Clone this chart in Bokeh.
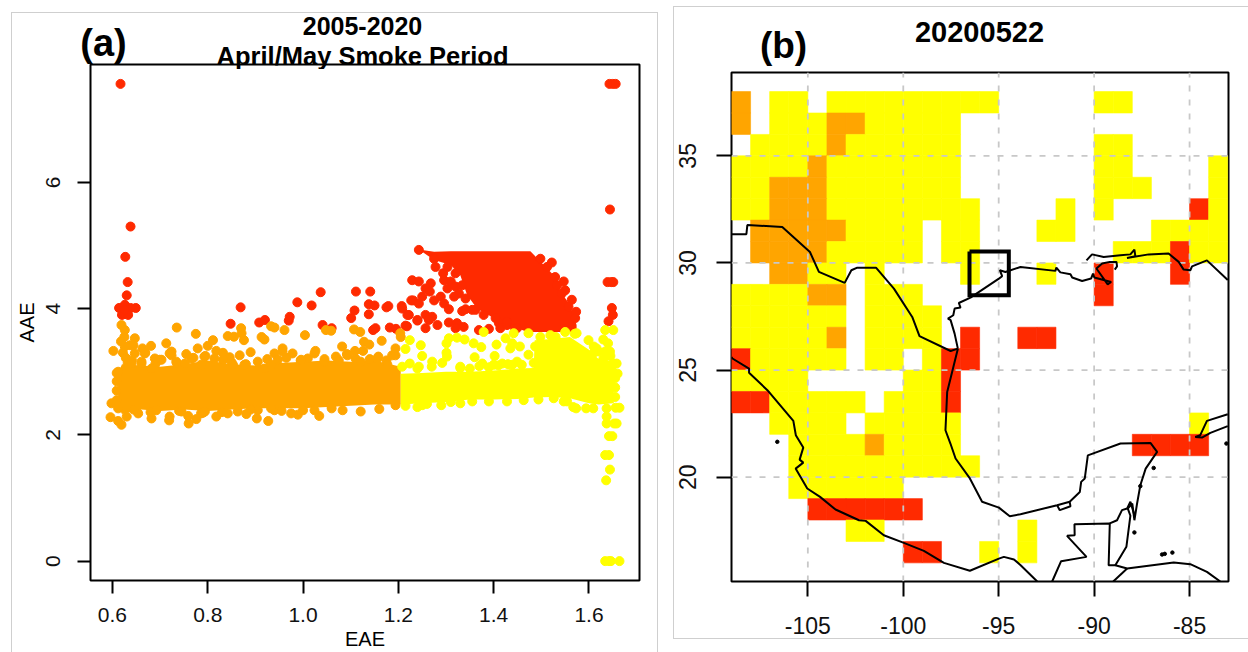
from bokeh.plotting import figure
from bokeh.layouts import row, column
from bokeh.models import FixedTicker, Range1d
from bokeh.core.properties import value
from bokeh.embed import file_html
from bokeh.resources import INLINE

FONT = "Liberation Sans"
ORANGE, YELLOW, RED = "#FFA500", "#FFFF00", "#FF2A00"

# ---------- panel (a): values ----------
eae_ticks = [0.6, 0.8, 1.0, 1.2, 1.4, 1.6]
eae_tick_labels = ["0.6", "0.8", "1.0", "1.2", "1.4", "1.6"]
aae_ticks = [0, 2, 4, 6]
aae_tick_labels = ["0", "2", "4", "6"]

# solid parts of the point cloud, as read envelopes
red_mass_eae = [1.250, 1.275, 1.310, 1.330, 1.344, 1.365, 1.400, 1.435, 1.470, 1.477, 1.505, 1.526, 1.540, 1.560, 1.574]
red_mass_high = [4.93, 4.90, 4.91, 4.91, 4.91, 4.91, 4.91, 4.91, 4.91, 4.91, 4.69, 4.53, 4.27, 4.06, 3.74]
red_mass_low = [4.90, 4.77, 4.69, 4.53, 4.22, 4.00, 3.85, 3.74, 3.63, 3.63, 3.63, 3.63, 3.63, 3.63, 3.63]

orange_mass_eae = [0.612, 0.62, 0.66, 0.70, 0.75, 0.80, 0.85, 0.90, 0.95, 1.00, 1.05, 1.10, 1.15, 1.205]
orange_mass_high = [2.98, 3.12, 3.10, 3.08, 3.12, 3.18, 3.12, 3.10, 3.14, 3.16, 3.18, 3.16, 3.18, 3.08]
orange_mass_low = [2.45, 2.33, 2.40, 2.38, 2.40, 2.38, 2.40, 2.42, 2.42, 2.42, 2.44, 2.46, 2.48, 2.48]

yellow_mass_eae = [1.205, 1.25, 1.30, 1.35, 1.40, 1.45, 1.484, 1.486, 1.52, 1.56, 1.60, 1.62, 1.652]
yellow_mass_high = [2.97, 2.98, 3.00, 3.00, 3.02, 3.05, 3.06, 3.50, 3.52, 3.55, 3.35, 3.20, 3.15]
yellow_mass_low = [2.48, 2.50, 2.52, 2.56, 2.56, 2.57, 2.59, 2.59, 2.60, 2.58, 2.50, 2.48, 2.50]

# individually visible points
red_eae = [0.617, 1.643, 1.650, 1.656, 1.644, 0.638, 0.627, 0.632, 0.630, 1.639, 1.647, 1.651, 1.648, 1.650, 1.641,
           0.614, 0.626, 0.649, 0.638, 0.620, 0.633, 0.625, 0.869, 0.848, 0.908, 0.920, 0.970, 0.972, 0.988, 1.018,
           1.037, 1.041, 1.060, 1.101, 1.108, 1.111, 1.141, 1.138, 1.150, 1.138, 1.175, 1.179, 1.147, 1.152, 1.182,
           1.195, 1.218, 1.207, 1.231, 1.222, 1.240, 1.243, 1.278, 1.294, 1.296, 1.229, 1.243, 1.268, 1.257, 1.266,
           1.303, 1.310, 1.320, 1.327, 1.317, 1.250, 1.289, 1.227, 1.275, 1.243, 1.296, 1.306, 1.334, 1.341, 1.257,
           1.271, 1.219, 1.240, 1.264, 1.282, 1.306, 1.257, 1.215, 1.323, 1.337, 1.320, 1.369, 1.390, 1.411, 1.414,
           1.362, 1.428, 1.522, 1.547, 1.550, 1.564, 1.573, 1.208, 1.533, 1.445,
           1.275, 1.303, 1.320, 1.334, 1.341, 1.355, 1.379, 1.404, 1.428, 1.449, 1.498, 1.512, 1.529, 1.543, 1.557, 1.571]
red_aae = [7.56, 7.56, 7.56, 7.56, 5.57, 5.30, 4.82, 4.42, 4.21, 4.42, 4.42, 4.42, 4.01, 3.90, 3.80,
           4.01, 4.06, 4.01, 4.01, 3.90, 3.90, 3.98, 4.02, 3.76, 3.78, 3.82, 3.81, 3.87, 4.10, 4.05,
           4.26, 3.74, 3.69, 3.85, 3.97, 4.27, 4.27, 4.07, 4.05, 3.91, 4.02, 4.04, 3.66, 3.69, 3.70,
           3.68, 3.72, 4.04, 4.13, 3.90, 3.81, 4.93, 4.66, 4.56, 4.45, 4.45, 4.43, 4.40, 4.32, 4.27,
           4.32, 4.43, 4.35, 4.24, 4.19, 4.19, 4.19, 4.13, 4.13, 4.08, 4.08, 3.99, 3.96, 3.99, 3.90,
           3.87, 3.90, 3.82, 3.82, 3.74, 3.78, 3.69, 3.73, 3.77, 3.71, 3.69, 3.66, 3.68, 3.77, 3.69,
           3.98, 3.74, 4.73, 4.43, 4.29, 4.14, 3.95, 4.00, 4.37, 3.69,
           4.79, 4.66, 4.56, 4.37, 4.16, 3.98, 3.90, 3.85, 3.79, 3.69, 4.79, 4.66, 4.50, 4.24, 4.03, 3.85]

orange_eae = [0.735, 0.775, 0.842, 0.855, 0.870, 0.871, 0.876, 0.913, 0.919, 0.933, 0.940, 0.602, 0.681, 0.663, 0.669,
              0.713, 0.724, 0.811, 0.890, 0.598, 0.596, 0.619, 0.612, 0.719, 0.760, 0.776, 0.927, 0.903, 0.842, 0.818,
              0.682, 0.759, 0.881, 0.647, 0.637, 0.619, 0.626, 0.625, 0.626, 0.622, 0.628, 0.632, 0.618, 0.755, 0.779,
              0.800, 0.818, 0.832, 0.846, 0.867, 0.905, 0.940, 0.947, 0.699, 0.661, 0.609, 0.724, 0.654, 0.720, 0.786,
              0.863, 0.630, 0.905, 0.940, 0.961, 1.004, 1.048, 1.059, 1.107, 1.120, 1.204, 1.205, 1.128, 1.139, 1.165,
              1.082, 1.194, 1.187, 1.109, 1.126, 1.092, 1.026, 1.069, 1.158, 0.978, 0.957, 0.989, 0.975, 1.034, 1.121,
              1.083, 1.160, 1.024, 1.194, 1.059, 0.641, 0.690, 0.735, 0.770, 0.795, 0.850, 0.880, 0.925, 0.965, 0.995,
              1.010, 1.045, 1.075, 1.110, 1.140, 1.175, 0.645, 0.680, 0.740, 0.790, 0.830, 0.890, 0.955, 1.000, 1.060,
              0.668, 0.703, 0.720, 0.734, 0.647, 0.644, 0.640, 0.661, 0.682, 0.689, 0.766, 0.793, 0.752, 0.814, 0.786,
              0.832, 0.853, 0.877, 0.919, 0.933, 0.957, 0.996, 1.024, 1.045, 1.093, 1.121, 1.156, 1.177, 1.194,
              0.745, 0.794, 0.933, 0.692, 0.863, 0.609, 0.609, 0.609, 0.612, 0.612]
orange_aae = [3.70, 3.60, 3.565, 3.555, 3.69, 3.61, 3.50, 3.55, 3.51, 3.72, 3.70, 3.33, 3.41, 3.37, 3.30,
              3.45, 3.32, 3.50, 3.31, 2.50, 2.28, 2.16, 2.22, 2.23, 2.18, 2.25, 2.22, 2.26, 2.34, 2.29,
              2.26, 2.30, 2.33, 3.53, 3.42, 3.74, 3.66, 3.55, 3.40, 3.30, 3.22, 3.14, 3.48, 3.28, 3.37,
              3.41, 3.33, 3.30, 3.23, 3.26, 3.16, 3.29, 3.19, 3.19, 3.16, 2.98, 3.26, 2.34, 2.29, 2.34,
              2.37, 2.29, 2.39, 2.39, 3.66, 3.58, 3.66, 3.65, 3.67, 3.63, 3.61, 3.55, 3.475, 3.43, 3.49,
              3.40, 3.37, 3.26, 3.33, 3.33, 3.28, 3.33, 3.24, 3.24, 3.29, 3.37, 2.32, 2.34, 2.30, 2.37,
              2.39, 2.41, 2.39, 2.47, 2.47, 3.18, 3.12, 3.14, 3.22, 3.25, 3.15, 3.12, 3.20, 3.22, 3.18,
              3.21, 3.20, 3.18, 3.21, 3.20, 3.18, 2.40, 2.36, 2.38, 2.35, 2.36, 2.40, 2.38, 2.39, 2.42,
              3.29, 3.19, 3.29, 3.16, 3.29, 3.42, 3.13, 3.13, 3.05, 3.21, 3.21, 3.24, 3.13, 3.21, 3.11,
              3.19, 3.11, 3.11, 3.05, 3.11, 3.32, 3.19, 3.29, 3.16, 3.26, 3.16, 3.21, 3.11, 3.26,
              2.37, 2.37, 2.42, 2.39, 2.45, 2.55, 2.70, 2.85, 2.42, 3.00]

yellow_eae = [1.224, 1.215, 1.247, 1.250, 1.224, 1.208, 1.271, 1.243, 1.292, 1.306, 1.301, 1.323, 1.301, 1.302, 1.339,
              1.358, 1.374, 1.406, 1.360, 1.402, 1.376, 1.425, 1.439, 1.435, 1.455, 1.473, 1.442, 1.379, 1.473, 1.418,
              1.439, 1.449, 1.459, 1.484, 1.350, 1.390, 1.400, 1.498, 1.519, 1.550, 1.574, 1.599, 1.616, 1.634, 1.651,
              1.634, 1.651, 1.630, 1.644, 1.487, 1.355, 1.390, 1.428, 1.463, 1.494, 1.526, 1.547, 1.567, 1.594, 1.609,
              1.637, 1.656, 1.637, 1.653, 1.637, 1.649, 1.642, 1.634, 1.642, 1.644, 1.636, 1.634, 1.642, 1.646, 1.664,
              1.664, 1.658, 1.573, 1.554, 1.660, 1.658, 1.215, 1.260, 1.310, 1.330, 1.530, 1.570, 1.610, 1.640, 1.645,
              1.610, 1.620, 1.640, 1.645, 1.630, 1.650, 1.655, 1.655, 1.655, 1.250, 1.290, 1.330, 1.240,
              1.240, 1.270, 1.330, 1.370, 1.410, 1.430]
yellow_aae = [3.50, 3.36, 3.42, 3.25, 3.13, 3.08, 3.16, 3.08, 3.14, 3.53, 3.45, 3.54, 3.30, 3.24, 3.51,
              3.45, 3.39, 3.43, 3.23, 3.25, 3.13, 3.53, 3.45, 3.37, 3.40, 3.61, 3.61, 3.63, 3.27, 3.13,
              3.11, 3.16, 3.11, 3.14, 3.05, 3.07, 3.11, 3.55, 3.58, 3.63, 3.61, 3.50, 3.37, 3.32, 3.13,
              3.66, 3.66, 3.51, 3.32, 3.40, 2.53, 2.53, 2.53, 2.55, 2.56, 2.58, 2.53, 2.44, 2.42, 2.42,
              2.42, 2.43, 2.18, 2.18, 2.29, 1.98, 1.98, 1.68, 1.68, 1.45, 1.28, 0.0, 0.0, 0.0, 0.0,
              2.43, 2.18, 2.42, 2.53, 2.97, 3.13, 2.46, 2.49, 2.52, 3.06, 3.55, 3.60, 3.30, 3.10, 2.80,
              3.40, 3.32, 3.45, 3.25, 3.20, 3.00, 2.90, 2.75, 2.60, 2.47, 2.47, 2.50, 2.44,
              3.05, 3.08, 3.08, 3.09, 3.10, 3.12]

# ---------- panel (b): 1 degree cells, north to south, -109 ... -84 ----------
lon_ticks = [-105, -100, -95, -90, -85]
lon_tick_labels = ["-105", "-100", "-95", "-90", "-85"]
lat_ticks = [20, 25, 30, 35]
lat_tick_labels = ["20", "25", "30", "35"]
cell_first_lon = -109
cell_lats = list(range(37, 15, -1))
cell_rows = [
    "O.YY.YYYYYYYYY.....YY.....",
    "O.YYYOOYYYYY..............",
    ".YYYYOYYYYYY.......YY.....",
    "YYYYOYYYYYYY.......YY....Y",
    "YYOOOYYYYYYY.......YYY...Y",
    "YYOOOYYYYYYYY....Y.Y....RY",
    ".OOOOOYYYY.YY...YY....YYYY",
    ".OOOOYYYYY.YY.......YYYRYY",
    "..OOYY.Y....Y...Y..R...R..",
    "YYYYOO.YYY.........R......",
    "YYYYYY.YYYY...............",
    "YYYYYO.YYYY.R..RR.........",
    "RYYYYY.YY.YRR.............",
    "YYYY.....YYR..............",
    "RRYYYYY.YYYR..............",
    "..YYYY.YYYYY............Y.",
    "...YYYYOYYYY.........RRRR.",
    "...YYYYYYYYYY.............",
    "...YYYYYY.................",
    "....RRRRRR................",
    "......YY.......Y..........",
    ".........RR..Y.Y..........",
]
cell_colors = {"Y": YELLOW, "O": ORANGE, "R": RED}

coast_lines = [
    # US-Mexico border
    ([-109.0, -108.22, -108.17, -106.34, -104.89, -104.42, -103.07, -102.72, -102.41, -101.43, -100.49, -99.53, -99.15, -97.52, -97.14],
     [31.34, 31.34, 31.77, 31.68, 30.51, 29.58, 29.07, 29.66, 29.78, 29.78, 28.80, 27.48, 26.58, 25.89, 26.0]),
    # Texas and Louisiana
    ([-97.14, -97.31, -97.52, -97.66, -97.38, -97.31, -97.0, -97.09, -96.48, -94.99, -94.82, -94.94, -94.65, -93.86,
      -92.03, -91.98, -91.77, -91.24, -91.15, -90.63, -90.16, -90.06, -89.99, -89.11, -89.29, -89.88, -89.58, -89.18, -88.83, -88.8, -88.92],
     [26.0, 26.70, 27.33, 27.40, 27.56, 27.87, 27.92, 28.13, 28.38, 29.27, 29.38, 29.66, 29.58, 29.81,
      29.63, 29.78, 29.56, 29.47, 29.32, 29.16, 29.27, 29.50, 29.32, 29.11, 29.0, 29.74, 29.97, 30.05, 30.05, 29.84, 29.69]),
    # Mississippi to Florida
    ([-90.40, -90.11, -89.5, -88.62, -88.1, -87.89, -87.84, -88.28, -87.14, -86.1, -85.57, -85.31, -84.96, -84.87, -84.09, -83.0],
     [30.12, 30.40, 30.28, 30.36, 30.40, 30.62, 30.31, 30.23, 30.40, 30.44, 30.05, 29.69, 29.66, 29.84, 30.12, 29.2]),
    # Pacific coast of Mexico
    ([-109.0, -108.95, -108.08, -108.08, -107.12, -105.76, -105.63, -105.24, -105.43, -105.24, -105.64, -105.03, -104.36, -103.55, -102.32, -101.97, -101.02, -99.97, -98.92, -97.87, -96.51, -94.99, -94.73, -94.2, -93.85, -92.98],
     [25.6, 25.54, 25.07, 24.87, 24.06, 22.63, 21.96, 21.38, 20.82, 20.68, 20.40, 19.47, 19.08, 18.49, 17.99, 17.96, 17.29, 16.93, 16.56, 16.0, 15.63, 16.2, 16.28, 16.16, 15.89, 15.13]),
    # Gulf coast of Mexico and Yucatan
    ([-97.14, -97.70, -97.79, -97.53, -97.26, -96.51, -95.87, -94.99, -94.42, -93.86, -91.94, -91.8, -91.24, -91.28, -91.94, -91.28, -90.75, -90.68, -90.49, -90.33, -88.62, -87.05, -86.7, -87.3, -87.58, -87.75, -87.89, -88.0, -88.24, -88.1, -88.31, -88.89, -88.27, -85.83, -84.96, -84.09, -83.39],
     [26.0, 23.98, 22.19, 21.57, 20.87, 19.94, 18.85, 18.58, 18.18, 18.27, 18.69, 18.46, 18.64, 18.85, 18.69, 18.85, 19.31, 19.78, 19.94, 21.02, 21.57, 21.6, 21.18, 20.4, 19.62, 18.77, 17.99, 18.77, 18.54, 18.2, 16.75, 15.89, 15.74, 16.02, 15.94, 15.58, 15.13]),
    # Guatemala and Belize borders
    ([-92.2, -91.73, -90.4, -91.42, -91.02, -91.03, -89.18, -89.24, -88.89],
     [15.13, 16.08, 16.28, 17.26, 17.29, 17.8, 17.84, 15.89, 15.89]),
    ([-89.18, -88.8, -88.54, -88.27, -88.1, -87.89],
     [17.84, 17.99, 18.46, 18.54, 18.85, 18.23]),
    ([-89.0, -88.27], [15.13, 15.74]),
    # Cuba
    ([-83.0, -84.09, -84.44, -84.70, -84.35, -83.91, -83.0],
     [22.94, 22.63, 21.96, 21.88, 21.85, 22.07, 22.38]),
]
island_lon = [-86.88, -87.58, -87.89, -86.44, -86.3, -85.9, -83.07, -106.6]
island_lat = [20.43, 19.58, 17.42, 16.39, 16.42, 16.48, 21.57, 21.65]
site_box_lon = [-96.53, -94.47, -94.47, -96.53, -96.53]
site_box_lat = [30.54, 30.54, 28.49, 28.49, 30.54]


def style_axes(p, xticks, xlabels, yticks, ylabels, font_px, tick_len, x_standoff, y_standoff):
    p.grid.visible = False
    p.outline_line_color = "black"
    p.outline_line_width = 2
    for ax, ticks, labels, standoff in ((p.xaxis[0], xticks, xlabels, x_standoff), (p.yaxis[0], yticks, ylabels, y_standoff)):
        ax.ticker = FixedTicker(ticks=ticks)
        ax.major_label_overrides = {t: s for t, s in zip(ticks, labels)}
        ax.major_label_text_font = FONT
        ax.major_label_text_font_size = f"{font_px}px"
        ax.major_label_text_color = "#111111"
        ax.major_tick_line_color = "black"
        ax.major_tick_line_width = 2
        ax.major_tick_out = tick_len
        ax.major_tick_in = 0
        ax.minor_tick_line_color = None
        ax.axis_line_color = None
        ax.major_label_standoff = standoff
    p.yaxis[0].major_label_orientation = "vertical"


def header(width, height, texts):
    """Strip above a panel that carries its title and panel letter."""
    h = figure(width=width, height=height, output_backend="svg", toolbar_location=None,
               x_range=Range1d(0, width), y_range=Range1d(height, 0),
               min_border=0, x_axis_type=None, y_axis_type=None,
               background_fill_color="white", border_fill_color="white", outline_line_color=None)
    h.grid.visible = False
    for x, y, s, px in texts:
        h.text([x], [y], text=[s], text_font=value(FONT), text_font_size=value(f"{px}px"), text_font_style="bold",
               text_color="black", text_align="center", text_baseline="middle")
    return row(h, spacing=0, width=width, height=height)


FRAME = {"outline": "1px solid #cfcfcf"}

# ---------- panel (a) ----------
ha = header(645, 56, [(350, 12, "2005-2020", 25), (350, 42, "April/May Smoke Period", 25.5), (91, 29, "(a)", 38)])
pa = figure(width=645, height=590, output_backend="svg", toolbar_location=None, margin=(-7, 0, 0, 0),
            x_range=Range1d(0.554, 1.706), y_range=Range1d(-0.307, 7.867),
            min_border_left=77, min_border_right=18, min_border_top=2, min_border_bottom=71,
            background_fill_color=None, border_fill_color=None,
            x_axis_label="EAE", y_axis_label="AAE")
style_axes(pa, eae_ticks, eae_tick_labels, aae_ticks, aae_tick_labels, 21, 13, 14, 17)
for ax in (pa.xaxis[0], pa.yaxis[0]):
    ax.axis_label_text_font = FONT
    ax.axis_label_text_font_size = "20px"
    ax.axis_label_text_font_style = "normal"
    ax.axis_label_text_color = "black"
pa.xaxis[0].axis_label_standoff = 3
pa.yaxis[0].axis_label_standoff = 6

DOT = 9
pa.varea(red_mass_eae, red_mass_low, red_mass_high, fill_color=RED)
pa.scatter(red_eae, red_aae, size=DOT, color=RED)
pa.varea(orange_mass_eae, orange_mass_low, orange_mass_high, fill_color=ORANGE)
pa.scatter(orange_eae, orange_aae, size=DOT, color=ORANGE)
pa.varea(yellow_mass_eae, yellow_mass_low, yellow_mass_high, fill_color=YELLOW)
pa.scatter(yellow_eae, yellow_aae, size=DOT, color=YELLOW)

# ---------- panel (b) ----------
hb = header(574, 63, [(305, 24, "20200522", 29), (109, 38, "(b)", 37)])
pb = figure(width=574, height=568, output_backend="svg", toolbar_location=None,
            x_range=Range1d(-109, -82.96), y_range=Range1d(15.13, 38.89),
            min_border_left=57, min_border_right=20, min_border_top=2, min_border_bottom=57,
            background_fill_color="white", border_fill_color="white")
style_axes(pb, lon_ticks, lon_tick_labels, lat_ticks, lat_tick_labels, 23, 15, 20, 20)

left, right, bottom, top, colors = [], [], [], [], []
for lat, cells in zip(cell_lats, cell_rows):
    for i, c in enumerate(cells):
        if c in cell_colors:
            left.append(cell_first_lon + i)
            right.append(cell_first_lon + i + 1)
            bottom.append(lat)
            top.append(lat + 1)
            colors.append(cell_colors[c])
pb.quad(left=left, right=right, bottom=bottom, top=top, fill_color=colors, line_color=colors, line_width=0.6)

for lo in lon_ticks:
    pb.line([lo, lo], [15.13, 38.89], line_color="#c8c8c8", line_width=1.8, line_dash="6 8")
for la in lat_ticks:
    pb.line([-109, -82.96], [la, la], line_color="#c8c8c8", line_width=1.8, line_dash="6 8")

for xs, ys in coast_lines:
    pb.line(xs, ys, line_color="black", line_width=2)
pb.scatter(island_lon, island_lat, size=3.5, color="black")
pb.line(site_box_lon, site_box_lat, line_color="black", line_width=4, line_join="miter")

col_a = column(ha, pa, spacing=0, width=645, height=639, margin=(13, 0, 0, 12), styles=FRAME)
col_b = column(hb, pb, spacing=0, width=574, height=631, margin=(7, 0, 0, 17), styles=FRAME)
page = row(col_a, col_b, spacing=0)
open("out.html", "w").write(file_html(page, INLINE))
